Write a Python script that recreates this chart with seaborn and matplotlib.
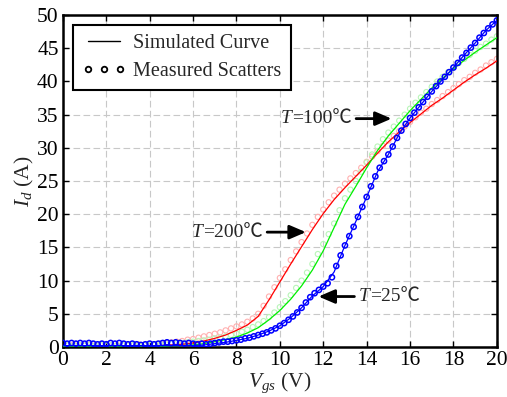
import numpy as np
import pandas as pd
import matplotlib
matplotlib.use("Agg")
import matplotlib.pyplot as plt
import seaborn as sns
from matplotlib.lines import Line2D

# ---------------- data ----------------
v_sim = [0.0, 0.5, 1.0, 1.5, 2.0, 2.5, 3.0, 3.5, 4.0, 4.5, 5.0, 5.5, 6.0, 6.5, 7.0, 7.5, 8.0,
         8.5, 9.0, 9.5, 10.0, 10.5, 11.0, 11.5, 12.0, 12.5, 13.0, 13.5, 14.0, 14.5, 15.0,
         15.5, 16.0, 16.5, 17.0, 17.5, 18.0, 18.5, 19.0, 19.5, 20.0]
red_sim = [0.1, 0.1, 0.1, 0.1, 0.1, 0.2, 0.2, 0.2, 0.2, 0.2, 0.3, 0.4, 0.6, 0.9, 1.3, 1.8, 2.5,
           3.3, 4.6, 7.1, 9.8, 12.5, 15.1, 17.7, 20.1, 22.2, 24.0, 25.7, 27.4, 29.2, 30.9,
           32.4, 33.8, 35.1, 36.4, 37.5, 38.7, 39.9, 41.0, 42.0, 43.1]
green_sim = [0.1, 0.1, 0.1, 0.1, 0.1, 0.1, 0.1, 0.1, 0.1, 0.1, 0.2, 0.2, 0.3, 0.5, 0.8, 1.1, 1.5,
             2.1, 2.9, 4.1, 5.5, 7.2, 9.2, 11.6, 14.5, 18.0, 21.5, 24.2, 27.0, 29.6, 31.8,
             33.7, 35.6, 37.3, 39.0, 40.5, 41.9, 43.2, 44.4, 45.5, 46.6]
blue_sim = [0.2, 0.2, 0.2, 0.2, 0.2, 0.2, 0.2, 0.2, 0.2, 0.2, 0.2, 0.2, 0.2, 0.3, 0.5, 0.7, 1.0,
            1.3, 1.8, 2.4, 3.2, 4.4, 5.9, 7.7, 9.1, 11.3, 15.3, 18.9, 22.6, 26.4, 29.0,
            32.1, 34.5, 36.5, 38.5, 40.3, 42.1, 44.0, 45.8, 47.7, 49.2]

# measured, 25 C (every 0.2 V)
v_meas25 = list(np.round(np.linspace(0, 20, 101), 2))
blue_meas = [0.6, 0.5, 0.6, 0.5, 0.6, 0.5, 0.6, 0.5, 0.4, 0.5, 0.4, 0.6, 0.5, 0.6, 0.5, 0.4,
             0.5, 0.4, 0.3, 0.4, 0.5, 0.4, 0.5, 0.6, 0.7, 0.6, 0.7, 0.6, 0.5, 0.6, 0.5,
             0.4, 0.5, 0.4, 0.5, 0.6, 0.7, 0.8, 0.8, 0.9, 1.0,
             1.1, 1.3, 1.4, 1.6, 1.8, 2.0, 2.2, 2.5, 2.8, 3.2,
             3.6, 4.1, 4.6, 5.2, 5.9, 6.7, 7.5, 8.1, 8.6, 9.1,
             9.6, 10.5, 12.2, 13.8, 15.3, 16.7, 18.1, 19.6, 21.1, 22.6,
             24.2, 25.7, 27.0, 28.0, 29.0, 30.2, 31.5, 32.6, 33.6, 34.5,
             35.3, 36.1, 36.9, 37.7, 38.5, 39.3, 40.0, 40.7, 41.4, 42.1,
             42.8, 43.6, 44.3, 45.1, 45.8, 46.6, 47.3, 48.0, 48.6, 49.2]

# measured, 100 C and 200 C (every 0.25 V)
v_meas = list(np.round(np.linspace(0, 20, 81), 2))
red_meas = [0.3, 0.3, 0.4, 0.3, 0.3, 0.4, 0.3, 0.3, 0.4, 0.3, 0.3, 0.4, 0.3, 0.3, 0.4, 0.3,
            0.4, 0.4, 0.5, 0.6,
            0.7, 0.8, 0.9, 1.1, 1.2, 1.4, 1.6, 1.8, 2.0, 2.2, 2.5, 2.8, 3.1, 3.4, 3.8, 4.3,
            5.0, 6.2, 7.6, 9.0, 10.4, 11.7, 13.1, 14.4, 15.8, 17.1, 18.4, 19.6, 20.7, 21.8,
            22.8, 23.7, 24.6, 25.4, 26.2, 27.0, 27.9, 28.7, 29.5, 30.3, 31.1, 31.8, 32.5,
            33.2, 33.9, 34.6, 35.3, 35.9, 36.6, 37.2, 37.8, 38.4, 39.0, 39.6, 40.2, 40.7,
            41.3, 41.8, 42.4, 42.9, 43.4]
green_meas = [0.2, 0.3, 0.2, 0.3, 0.2, 0.3, 0.2, 0.3, 0.2, 0.3, 0.2, 0.3, 0.2, 0.3, 0.2, 0.3,
              0.3, 0.3, 0.4, 0.4,
              0.5, 0.5, 0.6, 0.7, 0.8, 0.9, 1.0, 1.1, 1.3, 1.4, 1.6, 1.8, 2.0, 2.3, 2.6, 3.0,
              3.4, 3.9, 4.5, 5.2, 6.0, 6.9, 7.8, 8.9, 10.0, 11.2, 12.5, 14.0, 15.5, 17.0,
              18.6, 20.6, 22.4, 23.7, 25.0, 26.4, 27.8, 29.0, 30.2, 31.3, 32.3, 33.2, 34.1,
              35.0, 35.9, 36.8, 37.6, 38.4, 39.2, 40.0, 40.7, 41.4, 42.1, 42.8, 43.4, 44.0,
              44.6, 45.2, 45.7, 46.3, 46.8]

x_ticks = [0, 2, 4, 6, 8, 10, 12, 14, 16, 18, 20]
y_ticks = [0, 5, 10, 15, 20, 25, 30, 35, 40, 45, 50]

FS = 15.5
FS_LEG = 14.5
FS_ANN = 14

# ---------------- style ----------------
sns.set_theme(style="ticks")
plt.rcParams["font.family"] = ["Liberation Serif", "Noto Sans CJK SC", "DejaVu Serif"]
plt.rcParams["mathtext.fontset"] = "custom"
plt.rcParams["mathtext.rm"] = "Liberation Serif"
plt.rcParams["mathtext.it"] = "Liberation Serif:italic"

fig = plt.figure(figsize=(5.07, 3.97), dpi=100)
ax = fig.add_axes([0.124, 0.126, 0.856, 0.836])

# faint measured points
sns.scatterplot(x=v_meas, y=red_meas, ax=ax, marker="o", s=14, facecolor="none",
                edgecolor="#ffb0b0", linewidth=0.8, zorder=2)
sns.scatterplot(x=v_meas, y=green_meas, ax=ax, marker="o", s=14, facecolor="none",
                edgecolor="#b8f5b8", linewidth=0.8, zorder=2)
# simulated curves
sns.lineplot(x=v_sim, y=red_sim, ax=ax, color="#ff0000", linewidth=0.9, zorder=3)
sns.lineplot(x=v_sim, y=green_sim, ax=ax, color="#00ee00", linewidth=0.9, zorder=3)
# measured 25 C
sns.scatterplot(x=v_meas25, y=blue_meas, ax=ax, marker="o", s=14, facecolor="none",
                edgecolor="#0000ff", linewidth=1.1, zorder=4)
sns.lineplot(x=v_sim, y=blue_sim, ax=ax, color="#0000ff", linewidth=0.9, zorder=5)

ax.set_xlim(0, 20)
ax.set_ylim(0, 50)
ax.set_xticks(x_ticks)
ax.set_yticks(y_ticks)
ax.tick_params(direction="in", length=4, width=1, top=True, right=True,
               labelsize=FS, colors="black", pad=3)
for s in ax.spines.values():
    s.set_linewidth(1.8)
    s.set_color("black")
ax.grid(True, color="#c8c8c8", linestyle=(0, (6, 3)), linewidth=0.8)
ax.set_axisbelow(True)

ax.set_xlabel(r"$V_{gs}$ (V)", fontsize=FS, labelpad=0)
ax.set_ylabel(r"$I_d$ (A)", fontsize=FS, labelpad=1)

# annotations: arrow + text, italic "T" joined to "=..℃"
arrow = dict(arrowstyle="-|>,head_length=0.7,head_width=0.3", color="black", lw=2,
             mutation_scale=14, shrinkA=1, shrinkB=0)


def label_right(txt, xy, xytext):
    t = ax.annotate(txt, xy=xy, xytext=xytext, fontsize=FS_ANN, ha="right",
                    va="center", arrowprops=arrow)
    ax.annotate("T", xy=(0, 0), xycoords=t, fontsize=FS_ANN, style="italic",
                family="Liberation Serif", ha="right", va="bottom")


def label_left(txt, xy, xytext):
    t = ax.annotate("T", xy=xy, xytext=xytext, fontsize=FS_ANN, style="italic",
                    family="Liberation Serif", ha="left", va="center", arrowprops=arrow)
    ax.annotate(txt, xy=(1, 0), xycoords=t, fontsize=FS_ANN, ha="left", va="bottom")


label_right("=100℃", (15.15, 34.4), (13.3, 34.4))
label_right("=200℃", (11.2, 17.3), (9.2, 17.3))
label_left("=25℃", (11.78, 7.6), (13.65, 7.6))

handles = [Line2D([], [], color="black", linewidth=1.0),
           Line2D([], [], color="black", linestyle="none", marker="o", markersize=4,
                  markerfacecolor="none", markeredgewidth=1.3)]
leg = ax.legend(handles, ["Simulated Curve", "Measured Scatters"], loc="upper left",
                bbox_to_anchor=(0.023, 0.97), borderaxespad=0, fontsize=FS_LEG,
                numpoints=3, handlelength=2.2, handletextpad=0.35, fancybox=False,
                framealpha=1, edgecolor="black", borderpad=0.45, labelspacing=0.42)
leg.get_frame().set_linewidth(1.5)

fig.savefig("out.png", dpi=100)
